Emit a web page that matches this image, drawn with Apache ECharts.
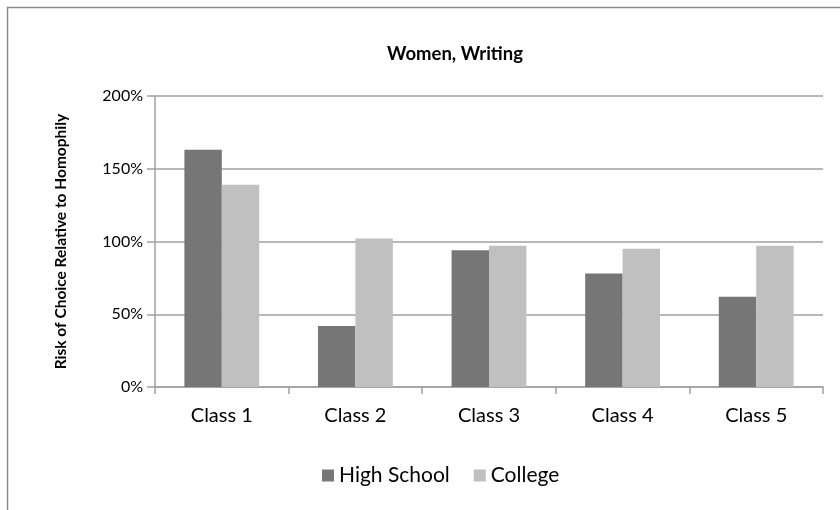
<!DOCTYPE html>
<html>
<head>
<meta charset="utf-8">
<script src="https://cdn.jsdelivr.net/npm/echarts@6/dist/echarts.min.js"></script>
<style>
  html, body { margin: 0; padding: 0; background: #fff; }
  #chart { width: 840px; height: 510px; }
</style>
</head>
<body>
<div id="chart"></div>
<script>
// categories and values (percent)
var classes = ['Class 1', 'Class 2', 'Class 3', 'Class 4', 'Class 5'];
var highSchool = [163, 42, 94, 78, 62];
var college = [139, 102, 97, 95, 97];
var yTicks = [0, 50, 100, 150, 200];

var font = 'Lato, "Open Sans", sans-serif';
var chart = echarts.init(document.getElementById('chart'));

var option = {
  backgroundColor: '#fff',
  animation: false,
  textStyle: { fontFamily: font },
  graphic: [{
    type: 'rect',
    shape: { x: 7.5, y: 7.5, width: 900, height: 600 },
    style: { fill: 'none', stroke: '#8c8c8c', lineWidth: 1.5 },
    silent: true
  }],
  title: {
    text: 'Women, Writing',
    left: 450,
    top: 40,
    textAlign: 'center',
    textStyle: { fontFamily: font, fontSize: 18.5, fontWeight: 'bold', color: '#000' }
  },
  legend: {
    data: ['High School', 'College'],
    left: 317,
    top: 460,
    itemWidth: 12,
    itemHeight: 12,
    itemGap: 24,
    icon: 'rect',
    textStyle: { fontFamily: font, fontSize: 21, color: '#000' }
  },
  grid: { left: 155, right: 17, top: 96, bottom: 123 },
  xAxis: {
    type: 'category',
    data: classes,
    axisLine: { lineStyle: { color: '#a0a0a0', width: 1.5 } },
    axisTick: { show: true, length: 7, lineStyle: { color: '#a0a0a0', width: 1.5 } },
    axisLabel: { fontFamily: font, fontSize: 20, color: '#000', margin: 19 }
  },
  yAxis: {
    type: 'value',
    min: yTicks[0],
    max: yTicks[yTicks.length - 1],
    interval: 50,
    name: 'Risk of Choice Relative to Homophily',
    nameLocation: 'middle',
    nameGap: 86,
    nameTextStyle: { fontFamily: font, fontSize: 15.5, fontWeight: 'bold', color: '#000' },
    axisLine: { show: true, lineStyle: { color: '#a0a0a0', width: 1.5 } },
    axisTick: { show: true, length: 8, lineStyle: { color: '#a0a0a0', width: 1.5 } },
    axisLabel: { fontFamily: font, fontSize: 16, color: '#000', margin: 12, formatter: '{value}%' },
    splitLine: { lineStyle: { color: '#a0a0a0', width: 1.5 } }
  },
  series: [
    {
      name: 'High School',
      type: 'bar',
      data: highSchool,
      barGap: '0%',
      barCategoryGap: '44%',
      itemStyle: { color: '#767676' }
    },
    {
      name: 'College',
      type: 'bar',
      data: college,
      barGap: '0%',
      barCategoryGap: '44%',
      itemStyle: { color: '#c0c0c0' }
    }
  ]
};

chart.setOption(option);
</script>
</body>
</html>
